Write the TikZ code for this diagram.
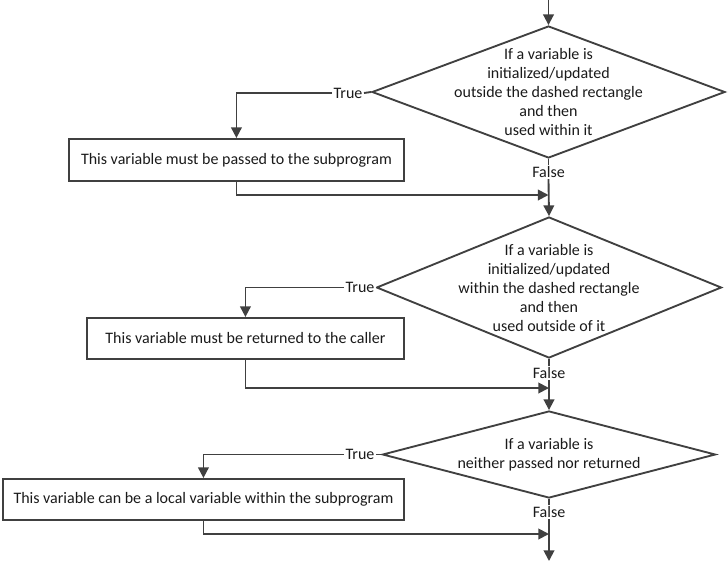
\documentclass[tikz,border=0pt]{standalone}
\usepackage{fontspec}
\setmainfont{Carlito}
\usetikzlibrary{shapes.geometric,arrows.meta}
\definecolor{ln}{HTML}{404040}
\definecolor{tx}{HTML}{1A1A1A}
\begin{document}
\begin{tikzpicture}[x=0.75pt,y=-0.75pt,
  every node/.style={font=\fontsize{12}{14.3}\selectfont,text=tx},
  dia/.style={diamond,draw=ln,line width=1.4pt,inner sep=0pt},
  box/.style={rectangle,draw=ln,line width=1.4pt,inner sep=0pt,anchor=north west},
  lab/.style={inner sep=1pt,fill=white},
  dtext/.style={align=center,inner sep=0pt},
  con/.style={draw=ln,line width=1.4pt},
  arr/.style={con,-{Triangle[length=8pt,width=8pt]}}]
\useasboundingbox (0,0) rectangle (728,564);
% diamonds
\node[dia,minimum width=353*0.75pt,minimum height=132*0.75pt] (d1) at (548.5,92) {};
\node[dtext] (d1t) at (548.5,92) {If a variable is\\initialized/updated\\outside the dashed rectangle\\and then\\used within it};
\node[dia,minimum width=345*0.75pt,minimum height=141*0.75pt] (d2) at (549,287.5) {};
\node[dtext] (d2t) at (549,288) {If a variable is\\initialized/updated\\within the dashed rectangle\\and then\\used outside of it};
\node[dia,minimum width=333*0.75pt,minimum height=87*0.75pt] (d3) at (549,454.5) {};
\node[dtext] (d3t) at (549,454.5) {If a variable is\\neither passed nor returned};
% boxes
\node[box,minimum width=335*0.75pt,minimum height=42*0.75pt] (b1) at (68,138) {};
\node (b1t) at (b1.center) {This variable must be passed to the subprogram};
\node[box,minimum width=317*0.75pt,minimum height=41*0.75pt] (b2) at (86,317) {};
\node (b2t) at (b2.center) {This variable must be returned to the caller};
\node[box,minimum width=401*0.75pt,minimum height=41*0.75pt] (b3) at (2,478) {};
\node (b3t) at (b3.center) {This variable can be a local variable within the subprogram};
% labels
\node[lab] (t1) at (348,93) {True};
\node[lab] (t2) at (360,287.5) {True};
\node[lab] (t3) at (360,454.5) {True};
\node[lab] (f1) at (548.5,172) {False};
\node[lab] (f2) at (549,373) {False};
\node[lab] (f3) at (549,512) {False};
% coordinates
\coordinate (top) at (548.5,0);
\coordinate (m1) at (548.5,195);
\coordinate (m2) at (549,388);
\coordinate (m3) at (549,534);
\coordinate (end) at (549,561);
% connectors
\draw[arr] (top) -- (d1.north);
\draw[con] (d1.west) -- (t1.east);
\draw[arr] (t1.west) -| (b1.north);
\draw[con] (d1.south) -- (f1.north);
\draw[arr] (f1.south) -- (d2.north);
\draw[arr] (b1.south) |- (m1);
\draw[con] (d2.west) -- (t2.east);
\draw[arr] (t2.west) -| (b2.north);
\draw[con] (d2.south) -- (f2.north);
\draw[arr] (f2.south) -- (d3.north);
\draw[arr] (b2.south) |- (m2);
\draw[con] (d3.west) -- (t3.east);
\draw[arr] (t3.west) -| (b3.north);
\draw[con] (d3.south) -- (f3.north);
\draw[arr] (f3.south) -- (end);
\draw[arr] (b3.south) |- (m3);
\end{tikzpicture}
\end{document}
